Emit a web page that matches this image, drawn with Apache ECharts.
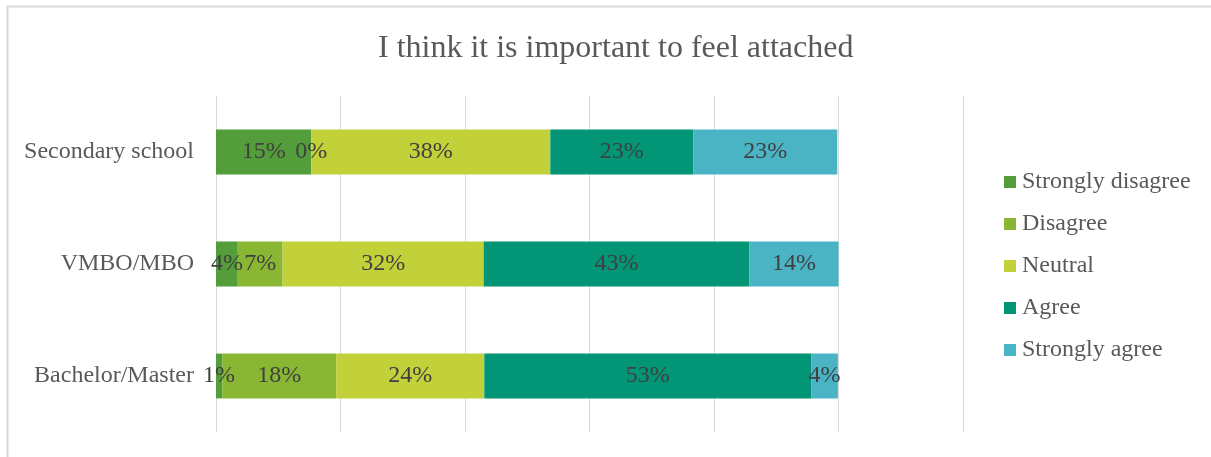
<!DOCTYPE html>
<html>
<head>
<meta charset="utf-8">
<script src="https://cdn.jsdelivr.net/npm/echarts@6/dist/echarts.min.js"></script>
<style>
html,body{margin:0;padding:0;background:#fff;}
#chart{width:1211px;height:457px;}
</style>
</head>
<body>
<div id="chart"></div>
<script>
// Data
const categories = ['Secondary school', 'VMBO/MBO', 'Bachelor/Master'];
const seriesNames = ['Strongly disagree', 'Disagree', 'Neutral', 'Agree', 'Strongly agree'];
const stronglyDisagree = [15.3, 3.5, 1.0];
const disagree = [0, 7.2, 18.3];
const neutral = [38.4, 32.3, 23.8];
const agree = [23.0, 42.7, 52.5];
const stronglyAgree = [23.1, 14.3, 4.3];
const xTicks = [0, 20, 40, 60, 80, 100, 120];

const colors = ['#539D3A', '#8AB733', '#C2D03A', '#029676', '#4AB4C5'];
const values = [stronglyDisagree, disagree, neutral, agree, stronglyAgree];

const chart = echarts.init(document.getElementById('chart'));
const serif = '"Liberation Serif", "DejaVu Serif", serif';

chart.setOption({
  animation: false,
  backgroundColor: '#fff',
  title: {
    text: 'I think it is important to feel attached',
    left: 373,
    top: 28,
    textStyle: { fontFamily: serif, fontSize: 32, fontWeight: 'normal', color: '#595959' }
  },
  legend: {
    orient: 'vertical',
    left: 999,
    top: 165,
    itemWidth: 12,
    itemHeight: 12,
    itemGap: 18,
    icon: 'rect',
    data: seriesNames,
    textStyle: { fontFamily: serif, fontSize: 24, color: '#595959', padding: [0, 0, 0, 1] }
  },
  grid: { left: 216, top: 96, width: 747, height: 336, containLabel: false },
  xAxis: {
    type: 'value',
    min: xTicks[0],
    max: xTicks[xTicks.length - 1],
    interval: 20,
    axisLabel: { show: false },
    axisLine: { show: false },
    axisTick: { show: false },
    splitLine: { show: true, lineStyle: { color: '#D9D9D9', width: 1 } }
  },
  yAxis: {
    type: 'category',
    data: categories,
    inverse: true,
    axisLine: { show: false },
    axisTick: { show: false },
    axisLabel: { fontFamily: serif, fontSize: 24, color: '#595959', margin: 22 }
  },
  graphic: [{
    type: 'rect',
    shape: { x: 7.5, y: 6.5, width: 1400, height: 600 },
    style: { fill: 'none', stroke: '#D9D9D9', lineWidth: 2 },
    silent: true
  }],
  series: seriesNames.map((name, i) => ({
    name: name,
    type: 'bar',
    stack: 'total',
    barWidth: '40%',
    itemStyle: { color: colors[i] },
    label: {
      show: true,
      position: 'inside',
      fontFamily: serif,
      fontSize: 24,
      color: '#404040',
      formatter: p => Math.round(p.value) + '%'
    },
    data: values[i]
  }))
});
</script>
</body>
</html>
